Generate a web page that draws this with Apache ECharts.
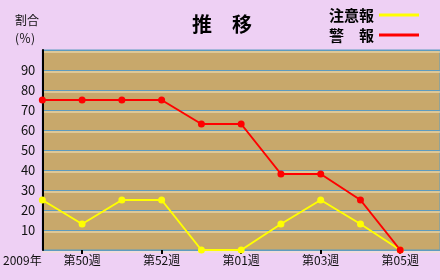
<!DOCTYPE html>
<html><head><meta charset="utf-8">
<script src="https://cdn.jsdelivr.net/npm/echarts@6/dist/echarts.min.js"></script>
<style>html,body{margin:0;padding:0;background:#EED0F4;}#c{width:440px;height:280px;}</style>
</head><body><div id="c"></div>
<script>
const categories = ['第49週','第50週','第51週','第52週','第53週','第01週','第02週','第03週','第04週','第05週',''];
const yearLabel = '2009年';
const chuuihou = [25,13,25,25,0,0,13,25,13,0];
const keihou = [75,75,75,75,63,63,38,38,25,0];
const yTicks = [10,20,30,40,50,60,70,80,90];
const seriesNames = ['注意報','警　報'];

const font = '"Noto Sans CJK JP", "Noto Sans", sans-serif';
const chart = echarts.init(document.getElementById('c'), null, {renderer:'canvas'});
chart.setOption({
  backgroundColor: '#EED0F4',
  animation: false,
  title: [
    {text: '推　移', left: 187, top: 9, textStyle: {fontFamily: font, fontSize: 20, fontWeight: 'bold', color: '#000'}},
    {text: '割合\n(％)', left: 10, top: 6, textStyle: {fontFamily: font, fontSize: 12, fontWeight: 'normal', color: '#111', lineHeight: 18}}
  ],
  legend: {
    orient: 'vertical', right: 16, top: 2, align: 'right',
    itemWidth: 40, itemHeight: 3, itemGap: 4, icon: 'rect',
    textStyle: {fontFamily: font, fontSize: 15, fontWeight: 'bold', color: '#000', lineHeight: 16, padding: [0, 0, 0, 0]},
    data: seriesNames
  },
  grid: {left: 41, right: -1, top: 50, bottom: 30, show: true, backgroundColor: '#C8A86B', borderColor: '#5E9CC0', borderWidth: 1},
  xAxis: {
    type: 'category', data: categories, boundaryGap: false,
    axisLine: {show: false},
    axisTick: {show: true, interval: (i) => i % 2 === 1 && i < 10, length: 4, lineStyle: {color: '#000', width: 2}},
    axisLabel: {
      interval: (i) => i === 0 || (i % 2 === 1 && i < 10),
      margin: 4, fontFamily: font, fontSize: 12, color: '#111',
      formatter: (v, i) => i === 0 ? '{yr|' + yearLabel + '}' : v,
      rich: {yr: {fontFamily: font, fontSize: 12, color: '#111', padding: [0, 40, 0, 0]}}
    },
    splitLine: {show: false}
  },
  yAxis: {
    type: 'value', min: 0, max: 100, interval: 10,
    axisLine: {show: true, onZero: false, lineStyle: {color: '#000', width: 2}},
    axisTick: {show: false},
    axisLabel: {margin: 7, fontFamily: font, fontSize: 13, color: '#111',
      formatter: (v) => yTicks.indexOf(v) >= 0 ? String(v) : ''},
    splitLine: {show: true, lineStyle: {color: '#5E9CC0', width: 1, shadowColor: '#F2E6C2', shadowOffsetY: 1.5, shadowBlur: 0}}
  },
  series: [
    {name: seriesNames[0], type: 'line', data: chuuihou, symbol: 'circle', symbolSize: 7,
     itemStyle: {color: '#FFFF00'}, lineStyle: {color: '#FFFF00', width: 2}},
    {name: seriesNames[1], type: 'line', data: keihou, symbol: 'circle', symbolSize: 7,
     itemStyle: {color: '#FF0000'}, lineStyle: {color: '#FF0000', width: 2}}
  ]
});
</script></body></html>
